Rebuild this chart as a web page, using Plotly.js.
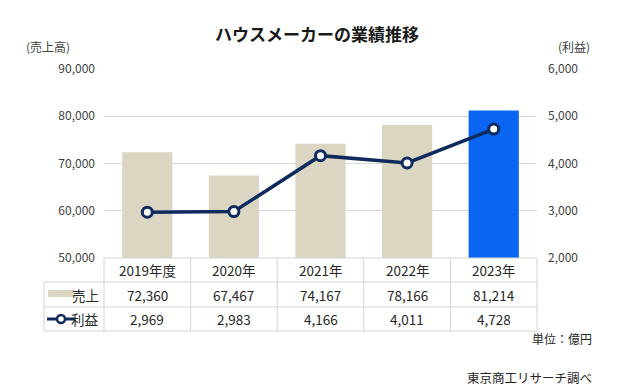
<!DOCTYPE html>
<html>
<head>
<meta charset="utf-8">
<script src="https://cdn.plot.ly/plotly-3.0.1.min.js"></script>
<style>html,body{margin:0;padding:0;background:#fff;}#chart{width:623px;height:391px;}</style>
</head>
<body>
<div id="chart"></div>
<script>
const categories = ["2019年度", "2020年", "2021年", "2022年", "2023年"];
const sales = [72360, 67467, 74167, 78166, 81214];
const profit = [2969, 2983, 4166, 4011, 4728];
const salesLabel = "売上";
const profitLabel = "利益";
const barColors = ["#dbd6c2", "#dbd6c2", "#dbd6c2", "#dbd6c2", "#0a66f2"];

const FONT = "'Noto Sans CJK JP', 'Noto Sans', sans-serif";
const navy = "#0f2a5c";
const border = "#d4d4d4";

// plot geometry in pixels
const L = 104, R = 537, T = 69, B = 258;
const W = R - L, H = B - T;
const px2x = p => (p - L) / W;
const px2y = p => (B - p) / H;

const fmt = v => v.toLocaleString('en-US');

const rowTop = [B, 282, 307, 331];
const shapes = [];
const annotations = [];

// table horizontal lines
shapes.push({type: 'line', xref: 'paper', yref: 'paper', x0: 0, x1: 1, y0: px2y(B), y1: px2y(B), line: {color: border, width: 1}});
for (let i = 1; i < 4; i++) {
  shapes.push({type: 'line', xref: 'paper', yref: 'paper', x0: px2x(44), x1: 1, y0: px2y(rowTop[i]), y1: px2y(rowTop[i]), line: {color: border, width: 1}});
}
// vertical lines
for (let k = 0; k <= categories.length; k++) {
  const xp = k / categories.length;
  shapes.push({type: 'line', xref: 'paper', yref: 'paper', x0: xp, x1: xp, y0: px2y(B), y1: px2y(331), line: {color: border, width: 1}});
}
shapes.push({type: 'line', xref: 'paper', yref: 'paper', x0: px2x(44), x1: px2x(44), y0: px2y(282), y1: px2y(331), line: {color: border, width: 1}});

// legend swatches
shapes.push({type: 'rect', xref: 'paper', yref: 'paper', x0: px2x(48), x1: px2x(74), y0: px2y(297), y1: px2y(290), fillcolor: barColors[0], line: {width: 0}});
shapes.push({type: 'line', xref: 'paper', yref: 'paper', x0: px2x(47), x1: px2x(75), y0: px2y(319), y1: px2y(319), line: {color: navy, width: 3}});
shapes.push({type: 'circle', xref: 'paper', yref: 'paper', x0: px2x(57), x1: px2x(65), y0: px2y(323), y1: px2y(315), fillcolor: '#ffffff', line: {color: navy, width: 2.5}});

const cellFont = {family: FONT, size: 13.5, color: '#262626'};
const mid = (a, b) => px2y((rowTop[a] + rowTop[b]) / 2);
const ann = o => Object.assign({showarrow: false, xanchor: 'center', yanchor: 'middle'}, o);

categories.forEach((c, i) => {
  annotations.push(ann({x: c, xref: 'x', y: mid(0, 1), yref: 'paper', text: c, font: cellFont}));
  annotations.push(ann({x: c, xref: 'x', y: mid(1, 2), yref: 'paper', text: fmt(sales[i]), font: cellFont}));
  annotations.push(ann({x: c, xref: 'x', y: mid(2, 3), yref: 'paper', text: fmt(profit[i]), font: cellFont}));
});
annotations.push(ann({x: px2x(101), xref: 'paper', xanchor: 'right', y: mid(1, 2), yref: 'paper', text: salesLabel, font: cellFont}));
annotations.push(ann({x: px2x(101), xref: 'paper', xanchor: 'right', y: mid(2, 3), yref: 'paper', text: profitLabel, font: cellFont}));

annotations.push(ann({x: px2x(24), xref: 'paper', xanchor: 'left', y: px2y(46), yref: 'paper', text: "(売上高)", font: {family: FONT, size: 12, color: '#404040'}}));
annotations.push(ann({x: px2x(592), xref: 'paper', xanchor: 'right', y: px2y(46), yref: 'paper', text: "(利益)", font: {family: FONT, size: 12, color: '#404040'}}));
annotations.push(ann({x: px2x(594), xref: 'paper', xanchor: 'right', y: px2y(338), yref: 'paper', text: "単位：億円", font: {family: FONT, size: 12, color: '#262626'}}));
annotations.push(ann({x: px2x(594), xref: 'paper', xanchor: 'right', y: px2y(377), yref: 'paper', text: "東京商工リサーチ調べ", font: {family: FONT, size: 12.5, color: '#262626'}}));

const data = [
  {type: 'bar', x: categories, y: sales, name: salesLabel, marker: {color: barColors}, width: 0.58, yaxis: 'y', hoverinfo: 'skip'},
  {type: 'scatter', mode: 'lines+markers', x: categories, y: profit, name: profitLabel, yaxis: 'y2',
   line: {color: navy, width: 3.5}, marker: {symbol: 'circle', size: 10, color: '#ffffff', line: {color: navy, width: 3}}, hoverinfo: 'skip'}
];

const layout = {
  width: 623, height: 391,
  margin: {l: L, r: 623 - R, t: T, b: 391 - B, pad: 0},
  paper_bgcolor: '#ffffff', plot_bgcolor: '#ffffff',
  showlegend: false,
  title: {text: "<b>ハウスメーカーの業績推移</b>", x: 317 / 623, xanchor: 'center', y: 1 - 35 / 391, yanchor: 'middle', yref: 'container',
          font: {family: FONT, size: 17, color: '#1a1a1a'}},
  xaxis: {type: 'category', range: [-0.5, 4.5], showticklabels: false, showgrid: false, zeroline: false, showline: false, ticks: ''},
  yaxis: {range: [50000, 90000], dtick: 10000, tickformat: ',', showgrid: true, gridcolor: '#d9d9d9', gridwidth: 1, zeroline: false,
          showline: false, ticks: '', ticklabelstandoff: 8, tickfont: {family: FONT, size: 12, color: '#404040'}},
  yaxis2: {range: [2000, 6000], dtick: 1000, tickformat: ',', overlaying: 'y', side: 'right', showgrid: false, zeroline: false,
           showline: false, ticks: '', ticklabelstandoff: 10, tickfont: {family: FONT, size: 12, color: '#404040'}},
  bargap: 0.4,
  shapes: shapes,
  annotations: annotations
};

Plotly.newPlot('chart', data, layout, {staticPlot: true, displayModeBar: false});
</script>
</body>
</html>
